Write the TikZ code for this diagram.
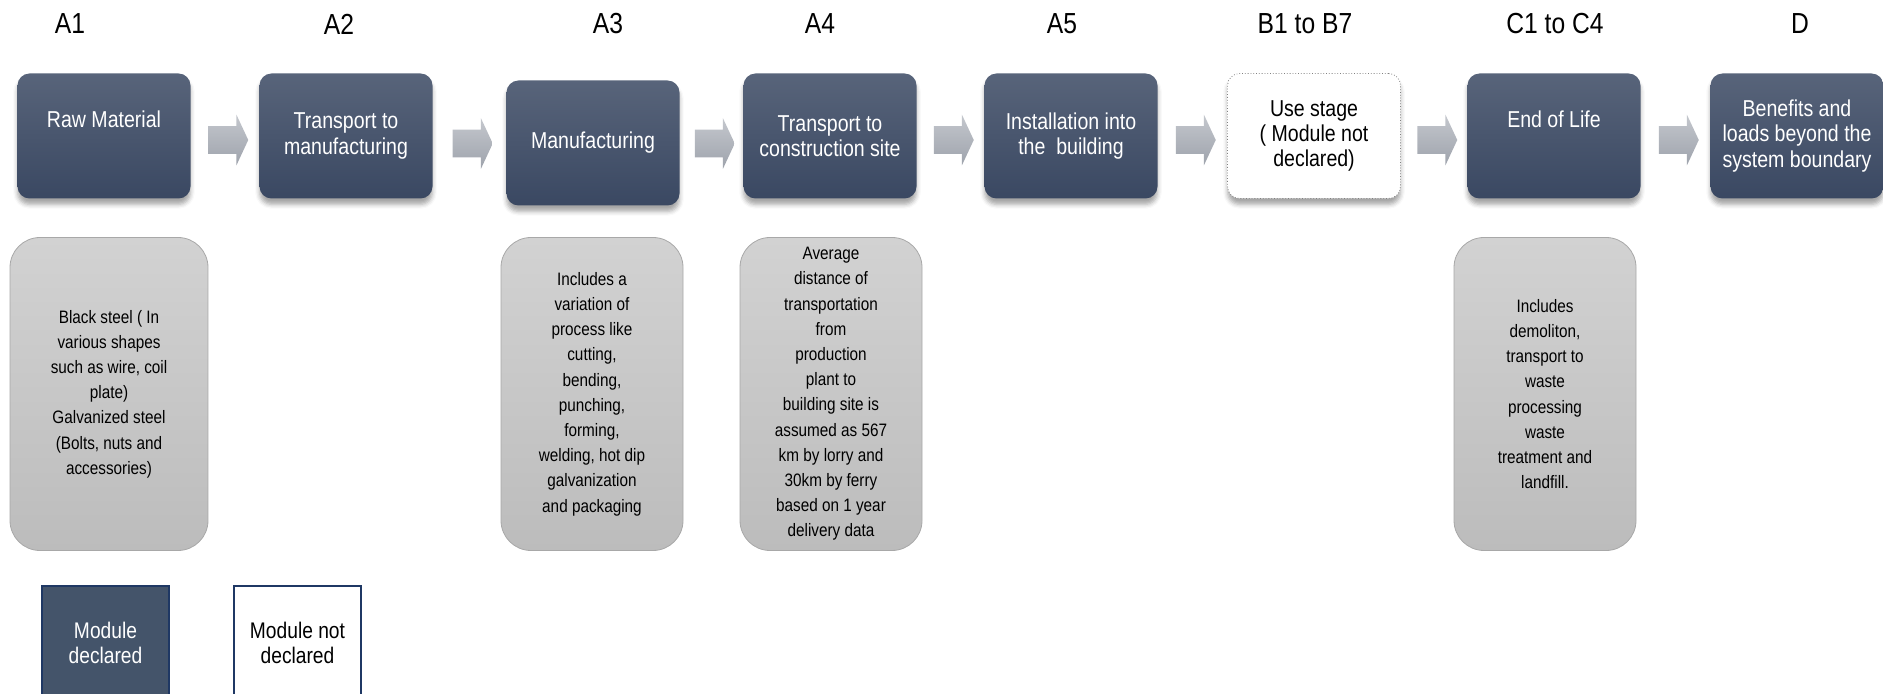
\documentclass[tikz,border=0pt]{standalone}
\usepackage{fontspec}
\setmainfont{Liberation Sans}[FakeStretch=0.85]
\usetikzlibrary{shapes.arrows,shadows.blur,calc}

\definecolor{slatetop}{RGB}{88,100,122}
\definecolor{slatebot}{RGB}{58,72,98}
\definecolor{slatefill}{RGB}{68,84,106}
\definecolor{navyline}{RGB}{31,56,100}
\definecolor{notetop}{RGB}{210,210,210}
\definecolor{notebot}{RGB}{188,188,188}
\definecolor{noteline}{RGB}{168,168,168}
\definecolor{flowtop}{RGB}{196,199,205}
\definecolor{flowbot}{RGB}{158,163,172}

\begin{document}
\begin{tikzpicture}[x=0.5pt,y=-0.5pt,
  header/.style={font=\fontsize{14.5}{17}\selectfont},
  stage/.style={rounded corners=6pt,minimum width=86.5pt,minimum height=62.5pt,
    top color=slatetop,bottom color=slatebot,text=white,align=center,inner sep=2pt,
    font=\fontsize{11.5}{12.6}\selectfont,
    blur shadow={shadow xshift=0pt,shadow yshift=-3pt,shadow opacity=35}},
  openstage/.style={stage,top color=white,bottom color=white,text=black,
    draw=gray,densely dotted},
  flow/.style={single arrow,single arrow tip angle=130,single arrow head extend=5.75pt,
    minimum height=20pt,inner xsep=0pt,inner ysep=6.75pt,top color=flowtop,bottom color=flowbot},
  note/.style={rounded corners=15pt,minimum width=91pt,minimum height=156.5pt,
    top color=notetop,bottom color=notebot,draw=noteline,thin,align=center,inner sep=2pt,
    font=\fontsize{9}{12.6}\selectfont},
  legend/.style={minimum width=63.5pt,minimum height=57pt,draw=navyline,line width=1.4pt,
    align=center,font=\fontsize{11.3}{12.6}\selectfont}]
\useasboundingbox (0,0) rectangle (1883,694);

% module headers
\node[header] (hA1) at (70,24) {A1};
\node[header] (hA2) at (339,24) {A2};
\node[header] (hA3) at (608,24) {A3};
\node[header] (hA4) at (820,24) {A4};
\node[header] (hA5) at (1062,24) {A5};
\node[header] (hB) at (1305,24) {B1 to B7};
\node[header] (hC) at (1555,24) {C1 to C4};
\node[header] (hD) at (1800,24) {D};

% life cycle stages
\node[stage] (rawmat) at (104,136) {Raw Material\\\strut};
\node[stage] (transmanu) at (346,136) {Transport to\\manufacturing};
\node[stage] (manu) at (593,143) {Manufacturing};
\node[stage] (transsite) at (830,136) {Transport to\\construction site};
\node[stage] (install) at (1071,136) {Installation into\\the\ \ building};
\node[openstage] (usestage) at (1314,136) {Use stage\\( Module not\\declared)};
\node[stage] (endlife) at (1554,136) {End of Life\\\strut};
\node[stage] (beyond) at (1797,136) {Benefits and\\loads beyond the\\system boundary};

% block arrows between stages
\node[flow] (ar1) at ($(rawmat.east)!0.5!(transmanu.west)+(0,4)$) {};
\node[flow] (ar2) at ($(transmanu.east)!0.5!(manu.west)+(0,4)$) {};
\node[flow] (ar3) at ($(manu.east)!0.5!(transsite.west)+(0,4)$) {};
\node[flow] (ar4) at ($(transsite.east)!0.5!(install.west)+(0,4)$) {};
\node[flow] (ar5) at ($(install.east)!0.5!(usestage.west)+(0,4)$) {};
\node[flow] (ar6) at ($(usestage.east)!0.5!(endlife.west)+(0,4)$) {};
\node[flow] (ar7) at ($(endlife.east)!0.5!(beyond.west)+(0,4)$) {};

% notes
\node[note,minimum width=99pt] (noteA1) at (109,394) {Black steel ( In\\various shapes\\such as wire, coil\\plate)\\Galvanized steel\\(Bolts, nuts and\\accessories)};
\node[note] (noteA3) at (592,394) {Includes a\\variation of\\process like\\cutting,\\bending,\\punching,\\forming,\\welding, hot dip\\galvanization\\and packaging};
\node[note] (noteA4) at (831,394) {Average\\distance of\\transportation\\from\\production\\plant to\\building site is\\assumed as 567\\km by lorry and\\30km by ferry\\based on 1 year\\delivery data};
\node[note] (noteC) at (1545,394) {Includes\\demoliton,\\transport to\\waste\\processing\\waste\\treatment and\\landfill.};

% legend
\node[legend,fill=slatefill,text=white] (declared) at (105.5,643) {Module\\declared};
\node[legend,fill=white] (notdeclared) at (297.5,643) {Module not\\declared};
\end{tikzpicture}
\end{document}
